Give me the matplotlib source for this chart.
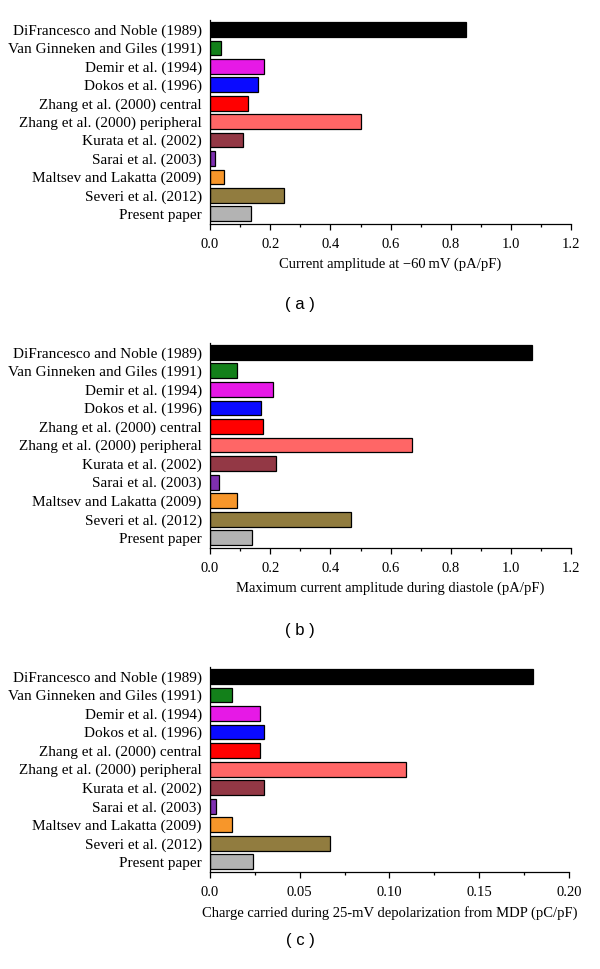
import numpy as np
import matplotlib
matplotlib.use('Agg')
import matplotlib.pyplot as plt
from matplotlib.ticker import MultipleLocator

models = ['DiFrancesco and Noble (1989)', 'Van Ginneken and Giles (1991)',
          'Demir et al. (1994)', 'Dokos et al. (1996)',
          'Zhang et al. (2000) central', 'Zhang et al. (2000) peripheral',
          'Kurata et al. (2002)', 'Sarai et al. (2003)',
          'Maltsev and Lakatta (2009)', 'Severi et al. (2012)', 'Present paper']

colors = ['#000000', '#13801a', '#e619e6', '#0a0aff', '#ff0000', '#ff6666',
          '#933845', '#7e2fb0', '#f7962a', '#917c3f', '#b3b3b3']

# panel values
amp_60mv = [0.85, 0.035, 0.18, 0.16, 0.125, 0.50, 0.11, 0.015, 0.045, 0.245, 0.135]
amp_diastole = [1.07, 0.09, 0.21, 0.17, 0.175, 0.67, 0.22, 0.03, 0.09, 0.47, 0.14]
charge_25mv = [0.18, 0.012, 0.028, 0.030, 0.028, 0.109, 0.030, 0.0035, 0.012, 0.067, 0.024]

xlabels = ['Current amplitude at \u221260\u2009mV (pA/pF)',
           'Maximum current amplitude during diastole (pA/pF)',
           'Charge carried during 25-mV depolarization from MDP (pC/pF)']
panel_tags = ['( a )', '( b )', '( c )']

serif = ['Liberation Serif', 'DejaVu Serif']

fig = plt.figure(figsize=(6, 9.69), dpi=100)

# [left, bottom, width, height] in figure fraction
boxes = [[0.350, 0.769, 0.602, 0.210],
         [0.350, 0.4345, 0.602, 0.2115],
         [0.350, 0.100, 0.598, 0.2115]]
tag_y = [1 - 305 / 969, 1 - 631 / 969, 1 - 941 / 969]

panels = [(amp_60mv, 1.2, 0.2, '%.1f'),
          (amp_diastole, 1.2, 0.2, '%.1f'),
          (charge_25mv, 0.20, 0.05, None)]

for i, (vals, xmax, step, fmt) in enumerate(panels):
    ax = fig.add_axes(boxes[i])
    y = np.arange(len(models))
    ax.barh(y, vals, height=0.8, color=colors, edgecolor='black', linewidth=0.9)
    ax.set_ylim(10.55, -0.5)
    ax.set_xlim(0, xmax)
    ax.set_yticks(y)
    ax.set_yticklabels(models, family=serif, fontsize=11)
    ax.tick_params(axis='y', length=0, pad=6)
    ax.xaxis.set_major_locator(MultipleLocator(step))
    ax.xaxis.set_minor_locator(MultipleLocator(step / 2))
    ax.tick_params(axis='x', which='major', direction='out', length=4, width=0.9, pad=6)
    ax.tick_params(axis='x', which='minor', direction='out', length=2.5, width=0.9)
    ticks = np.arange(0, xmax + step / 2, step)
    ax.set_xticks(ticks)
    if fmt:
        ax.set_xticklabels([fmt % t for t in ticks], family=serif, fontsize=10.5)
    else:
        ax.set_xticklabels(['0.0'] + ['%.2f' % t for t in ticks[1:]], family=serif, fontsize=10.5)
    ax.set_xlabel(xlabels[i], family=serif, fontsize=10.5, labelpad=5)
    for s in ['top', 'right']:
        ax.spines[s].set_visible(False)
    for s in ['left', 'bottom']:
        ax.spines[s].set_linewidth(0.9)
    fig.text(0.5, tag_y[i], panel_tags[i], ha='center', va='center',
             family=['Liberation Sans', 'DejaVu Sans'], fontsize=12)

fig.savefig('out.png', dpi=100)
